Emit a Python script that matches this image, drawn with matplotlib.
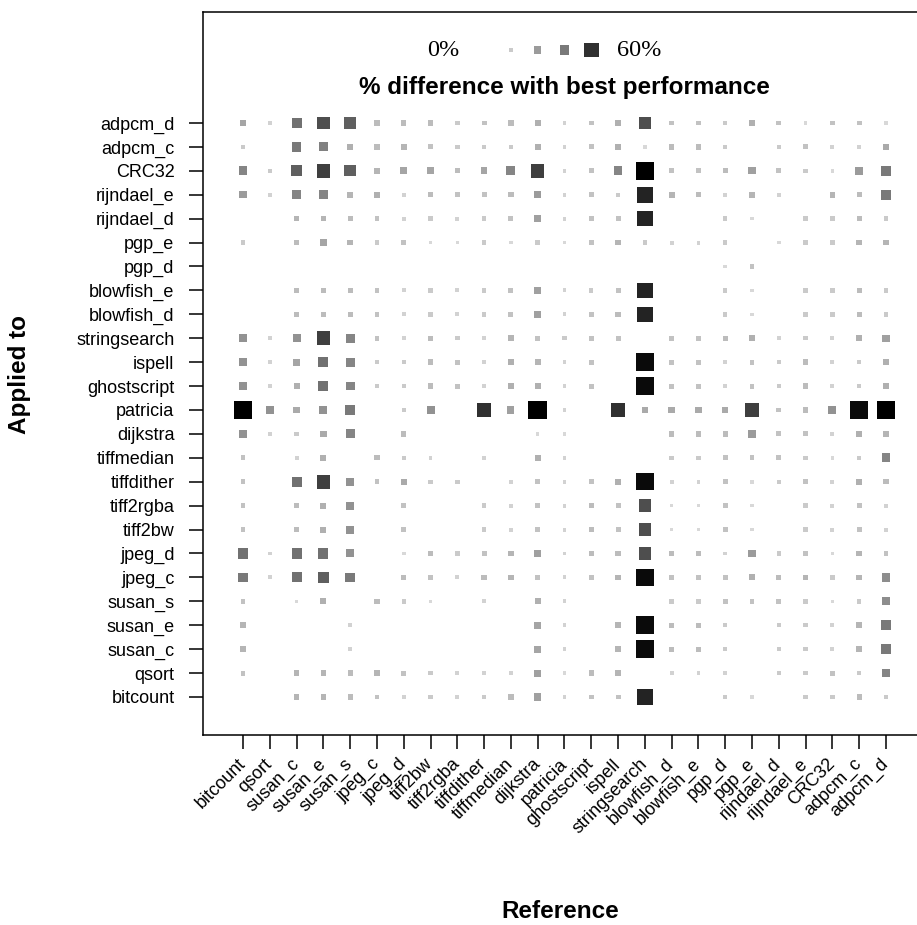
import matplotlib
matplotlib.use("Agg")
import matplotlib.pyplot as plt
import numpy as np

# benchmark programs, same order on both axes (x left->right, y bottom->top)
programs = ["bitcount", "qsort", "susan_c", "susan_e", "susan_s", "jpeg_c", "jpeg_d",
            "tiff2bw", "tiff2rgba", "tiffdither", "tiffmedian", "dijkstra", "patricia",
            "ghostscript", "ispell", "stringsearch", "blowfish_d", "blowfish_e", "pgp_d",
            "pgp_e", "rijndael_d", "rijndael_e", "CRC32", "adpcm_c", "adpcm_d"]

# % difference with best performance, one row per "applied to" program,
# listed top row first (adpcm_d) down to bitcount; columns follow `programs`
diff_rows = [
    [8, 1, 20, 30, 25, 4, 4, 4, 2, 3, 4, 6, 1, 3, 6, 30, 3, 3, 2, 6, 3, 0.5, 3, 3, 0.5],   # adpcm_d
    [2, 0, 18, 16, 6, 4, 5, 3, 2, 2, 2, 6, 1, 3, 6, 0.5, 4, 4, 2, 0, 2, 3, 1, 1, 7],       # adpcm_c
    [15, 2, 25, 35, 25, 5, 8, 8, 4, 8, 15, 35, 1, 3, 15, 60, 3, 3, 4, 9, 3, 2, 0.5, 10, 18],  # CRC32
    [10, 1, 15, 15, 5, 6, 1, 4, 3, 3, 4, 10, 1, 3, 2, 45, 5, 4, 1, 5, 1, 0, 5, 4, 18],     # rijndael_e
    [0, 0, 5, 5, 4, 3, 1, 2, 1, 2, 3, 9, 1, 3, 3, 45, 0, 0, 2, 0.5, 0, 2, 2, 4, 2],        # rijndael_d
    [2, 0, 4, 8, 5, 2, 3, 0.5, 0.5, 2, 0.5, 2, 0.5, 3, 5, 2, 1, 1, 2, 0, 0.5, 2, 2, 5, 5],  # pgp_e
    [0, 0, 0, 0, 0, 0, 0, 0, 0, 0, 0, 0, 0, 0, 0, 0, 0, 0, 0.5, 3, 0, 0, 0, 0, 0],         # pgp_d
    [0, 0, 4, 4, 4, 3, 1, 2, 1, 2, 3, 9, 1, 2, 3, 45, 0, 0, 2, 0.5, 0, 2, 2, 4, 2],        # blowfish_e
    [0, 0, 4, 4, 4, 3, 1, 2, 1, 2, 3, 9, 1, 3, 4, 45, 0, 0, 2, 0.5, 0, 2, 2, 4, 2],        # blowfish_d
    [12, 1, 12, 35, 15, 3, 1, 4, 2, 1, 5, 3, 2, 3, 3, 0, 3, 3, 4, 6, 1, 2, 1, 6, 9],       # stringsearch
    [12, 1, 8, 20, 15, 2, 2, 4, 3, 1, 6, 5, 1, 3, 0, 55, 3, 3, 1, 3, 2, 4, 1, 2, 6],       # ispell
    [12, 1, 6, 20, 15, 2, 2, 4, 3, 1, 6, 6, 1, 3, 0, 55, 3, 3, 1, 3, 2, 4, 1, 2, 6],       # ghostscript
    [60, 12, 7, 12, 18, 0, 2, 12, 0, 40, 9, 60, 1, 0, 40, 7, 7, 7, 7, 35, 3, 4, 12, 55, 60],  # patricia
    [12, 1, 2, 7, 15, 0, 4, 0, 0, 0, 0, 0.5, 0.5, 0, 0, 0, 4, 4, 4, 10, 3, 3, 1, 6, 5],    # dijkstra
    [3, 0, 1, 6, 0, 4, 2, 1, 0, 1, 0, 6, 1, 0, 0, 0, 2, 2, 3, 3, 3, 2, 0.5, 2, 15],        # tiffmedian
    [3, 0, 20, 35, 12, 3, 7, 2, 2, 0, 1, 3, 1, 3, 6, 55, 1, 1, 3, 0.5, 2, 3, 1, 6, 4],     # tiffdither
    [3, 0, 4, 6, 12, 0, 3, 0, 0, 2, 1, 3, 1, 4, 3, 30, 0.5, 0.5, 3, 0.5, 0, 2, 1, 3, 1],   # tiff2rgba
    [3, 0, 4, 6, 12, 0, 3, 0, 0, 2, 1, 3, 1, 4, 3, 30, 0.5, 0.5, 3, 0.5, 0, 2, 1, 3, 1],   # tiff2bw
    [20, 1, 20, 20, 12, 0, 0.5, 4, 2, 3, 5, 9, 1, 4, 4, 30, 4, 4, 1, 10, 2, 3, 0.5, 5, 3],  # jpeg_d
    [18, 1, 20, 25, 18, 0, 4, 3, 1, 4, 5, 3, 1, 3, 5, 55, 3, 3, 3, 6, 4, 5, 2, 5, 13],     # jpeg_c
    [3, 0, 0.5, 6, 0, 4, 2, 0.5, 0, 1, 0, 6, 1, 0, 0, 0, 2, 2, 3, 3, 3, 2, 0.5, 2, 13],    # susan_s
    [5, 0, 0, 0, 1, 0, 0, 0, 0, 0, 0, 8, 1, 0, 5, 55, 4, 4, 2, 0, 2, 2, 1, 5, 18],         # susan_e
    [5, 0, 0, 0, 1, 0, 0, 0, 0, 0, 0, 8, 1, 0, 5, 55, 4, 4, 2, 0, 2, 2, 1, 5, 18],         # susan_c
    [3, 0, 5, 5, 4, 5, 3, 2, 1, 1, 1, 9, 0.5, 4, 5, 0, 1, 1, 1, 0, 2, 2, 3, 2, 15],        # qsort
    [0, 0, 5, 5, 4, 3, 1, 2, 1, 2, 4, 9, 1, 3, 3, 45, 0, 0, 2, 0.5, 0, 2, 2, 4, 2],        # bitcount
]

legend_values = [2, 10, 18, 40]
max_pct = 60


def square_style(v):
    t = (np.asarray(v, dtype=float) / max_pct) ** 0.7
    side_px = 3.0 + 15.4 * t
    gray = 0.88 * (1 - t) ** 1.1
    return (side_px * 0.72) ** 2, [(g, g, g) for g in np.atleast_1d(gray)]


# build point list, skipping empty cells
xs, ys, vals = [], [], []
n = len(programs)
for r, row in enumerate(diff_rows):
    yi = n - 1 - r
    for xi, v in enumerate(row):
        if v > 0:
            xs.append(xi)
            ys.append(yi)
            vals.append(v)

plt.rcParams["font.family"] = ["Liberation Sans", "DejaVu Sans"]

fig = plt.figure(figsize=(9.17, 9.25), dpi=100)
ax = fig.add_axes([203 / 917, 190 / 925, 717 / 917, 723 / 925])

sizes, colors = square_style(vals)
ax.scatter(xs, ys, s=sizes, c=colors, marker="s", linewidths=0)

# legend row + title inside the box
lx = [10, 11, 12, 13]
ls, lc = square_style(legend_values)
ax.scatter(lx, [27.05] * 4, s=ls, c=lc, marker="s", linewidths=0)
ax.text(7.47, 27.05, "0%", fontsize=17.5, family="Liberation Serif", ha="center", va="center")
ax.text(14.78, 27.05, "60%", fontsize=17.5, family="Liberation Serif", ha="center", va="center")
ax.text(12.0, 25.5, "% difference with best performance", fontsize=17.5, fontweight="bold",
        ha="center", va="center")

ax.set_xlim(-1.493, 25.27)
ax.set_ylim(-1.589, 28.64)
ax.set_xticks(range(n))
ax.set_xticklabels(programs, rotation=45, ha="right", va="center", rotation_mode="anchor", fontsize=13)
ax.set_yticks(range(n))
ax.set_yticklabels(programs, fontsize=13)
ax.tick_params(axis="both", direction="out", length=10, width=1.1, color="black")
ax.tick_params(axis="y", pad=10.5)
ax.tick_params(axis="x", pad=9)
for sp in ax.spines.values():
    sp.set_linewidth(1.1)

fig.text(560 / 917, 1 - 912 / 925, "Reference", fontsize=17.5, fontweight="bold", ha="center", va="center")
fig.text(20 / 917, 1 - 374 / 925, "Applied to", fontsize=17.5, fontweight="bold", rotation=90,
         ha="center", va="center")

fig.savefig("out.png", dpi=100, facecolor="white")
